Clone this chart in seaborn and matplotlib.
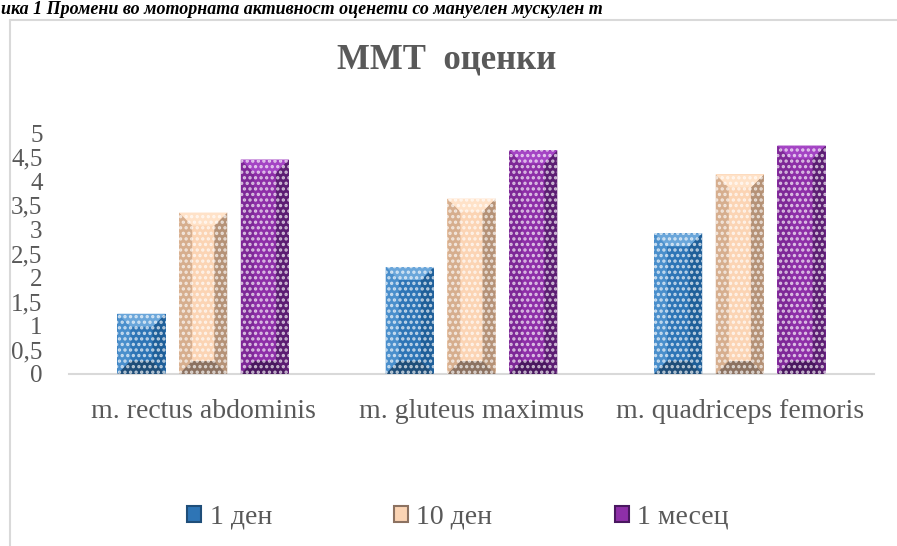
import matplotlib
matplotlib.use("Agg")
import matplotlib.pyplot as plt
import matplotlib.font_manager as fm
import seaborn as sns
import pandas as pd
from matplotlib.patches import Polygon, Rectangle, Patch
from matplotlib.lines import Line2D

# ---- data ----
muscles = ["m. rectus abdominis", "m. gluteus maximus", "m. quadriceps femoris"]
periods = ["1 ден", "10 ден", "1 месец"]
day1 = [1.25, 2.22, 2.92]
day10 = [3.35, 3.64, 4.14]
month1 = [4.45, 4.64, 4.74]
yticks = [0, 0.5, 1, 1.5, 2, 2.5, 3, 3.5, 4, 4.5, 5]
ytick_labels = ["0", "0,5", "1", "1,5", "2", "2,5", "3", "3,5", "4", "4,5", "5"]
title = "ММТ  оценки"
caption = "ика 1 Промени во моторната активност оценети со мануелен мускулен т"

df = pd.DataFrame({
    "muscle": muscles * 3,
    "period": [periods[0]] * 3 + [periods[1]] * 3 + [periods[2]] * 3,
    "score": day1 + day10 + month1,
})

sns.set_theme(style="white")
names = {f.name for f in fm.fontManager.ttflist}
serif = next((n for n in ["Liberation Serif", "Tinos", "Times New Roman", "DejaVu Serif"] if n in names),
             "serif")
plt.rcParams["font.family"] = [serif, "DejaVu Serif"]
plt.rcParams["hatch.linewidth"] = 1.6

center = {"1 ден": "#2E75B6", "10 ден": "#FBD4B4", "1 месец": "#8E2FA8"}
bevels = {
    "1 ден":   dict(left="#4A8FCC", top="#6AA6DA", right="#1F5F99", bottom="#1F4E79"),
    "10 ден":  dict(left="#D6AE8E", top="#FFE2C8", right="#B59277", bottom="#8C7261"),
    "1 месец": dict(left="#7E2897", top="#A444C4", right="#5C1E73", bottom="#4A1860"),
}

fig = plt.figure(figsize=(8.97, 5.46), dpi=100)
ax = fig.add_axes([69 / 897, 172 / 546, 805 / 897, 241 / 546])

sns.barplot(data=df, x="muscle", y="score", hue="period", order=muscles,
            hue_order=periods, palette=center, width=0.69, gap=0.22,
            saturation=1, legend=False, ax=ax, linewidth=0)

ax.set_ylim(0, 5)
ax.set_yticks(yticks)
ax.set_yticklabels(ytick_labels)
ax.tick_params(axis="y", length=0, pad=19, labelsize=18, labelcolor="#595959")
ax.tick_params(axis="x", length=0, pad=18, labelsize=20, labelcolor="#595959")
ax.set_xlabel("")
ax.set_ylabel("")
for s in ["top", "right", "left"]:
    ax.spines[s].set_visible(False)
ax.spines["bottom"].set_color("#D9D9D9")
ax.spines["bottom"].set_linewidth(1.5)

# bevel + dotted texture derived from the drawn bars
by = 0.27  # bevel height in data units
patches = [p for p in ax.patches if isinstance(p, Rectangle) and p.get_height() > 0]
for p in patches:
    x0, w, h = p.get_x(), p.get_width(), p.get_height()
    x1 = x0 + w
    fc = matplotlib.colors.to_hex(p.get_facecolor())
    key = [k for k, v in center.items() if v.lower() == fc.lower()][0]
    b = bevels[key]
    bx = 0.27 * w
    polys = {
        "left": [(x0, 0), (x0 + bx, by), (x0 + bx, h - by), (x0, h)],
        "right": [(x1, 0), (x1 - bx, by), (x1 - bx, h - by), (x1, h)],
        "top": [(x0, h), (x1, h), (x1 - bx, h - by), (x0 + bx, h - by)],
        "bottom": [(x0, 0), (x1, 0), (x1 - bx, by), (x0 + bx, by)],
    }
    for side, pts in polys.items():
        ax.add_patch(Polygon(pts, closed=True, facecolor=b[side], edgecolor="none", zorder=3))
    ax.add_patch(Rectangle((x0, 0), w, h, facecolor="none",
                           edgecolor=(1, 1, 1, 0.7), linewidth=0, hatch="...", zorder=4))

# title
fig.text(447 / 897, 1 - 60 / 546, title, ha="center", va="center", fontsize=25,
         fontweight="bold", color="#595959")

# caption at top (fully inside the figure)
fig.text(1 / 897, 1 - 1 / 546, caption, ha="left", va="top", fontsize=13,
         fontweight="bold", fontstyle="italic", color="black")

# chart border
fig.add_artist(Line2D([10 / 897, 10 / 897], [0, 1 - 20 / 546], transform=fig.transFigure,
                      color="#D9D9D9", lw=1.5))
fig.add_artist(Line2D([10 / 897, 1], [1 - 20 / 546, 1 - 20 / 546], transform=fig.transFigure,
                      color="#D9D9D9", lw=1.5))

# legend
handles = [Patch(facecolor=center[k], edgecolor=bevels[k]["bottom"], linewidth=1.5)
           for k in periods]
fig.legend(handles, periods, loc="center", bbox_to_anchor=(458 / 897, 1 - 517 / 546),
           ncol=3, frameon=False, fontsize=20, handlelength=0.5, handleheight=0.5,
           handletextpad=0.3, columnspacing=4.4, labelcolor="#595959")

fig.savefig("out.png", dpi=100)
